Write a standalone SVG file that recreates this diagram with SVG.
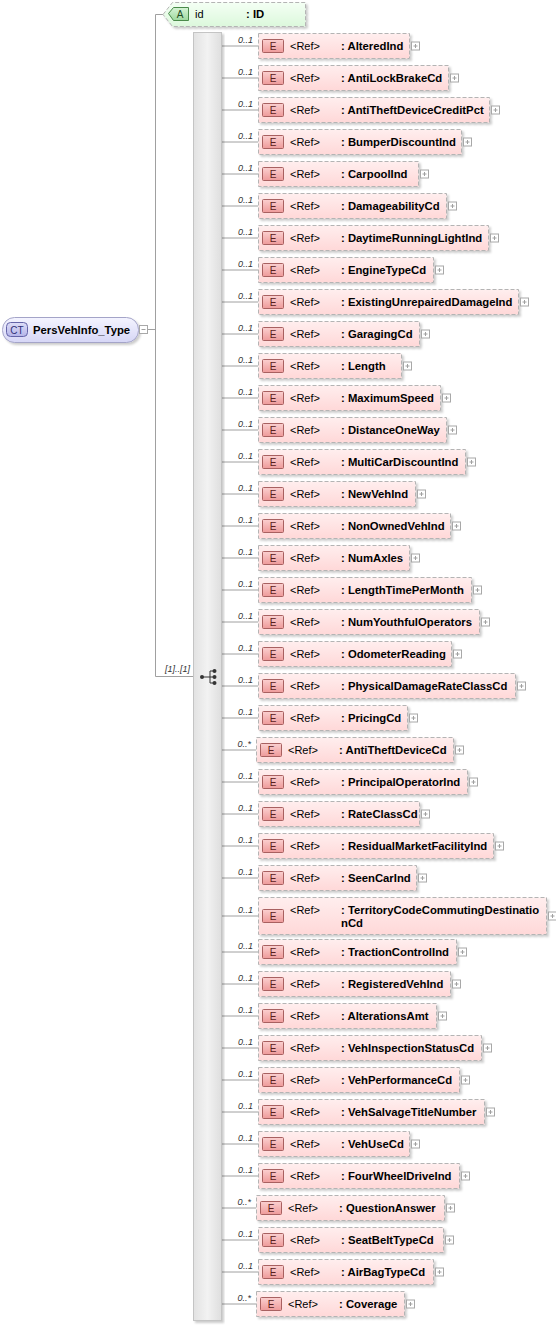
<svg xmlns="http://www.w3.org/2000/svg" xmlns:xlink="http://www.w3.org/1999/xlink" width="556" height="1325" viewBox="0 0 556 1325">
<defs>
<linearGradient id="gE" x1="0" y1="0" x2="0" y2="1"><stop offset="0" stop-color="#ffeeee"/><stop offset="1" stop-color="#ffd8d8"/></linearGradient>
<linearGradient id="gEi" x1="0" y1="0" x2="0" y2="1"><stop offset="0" stop-color="#fbd0d0"/><stop offset="1" stop-color="#ee9a9a"/></linearGradient>
<linearGradient id="gA" x1="0" y1="0" x2="0" y2="1"><stop offset="0" stop-color="#f4fff4"/><stop offset="1" stop-color="#dcf8dc"/></linearGradient>
<linearGradient id="gAi" x1="0" y1="0" x2="0" y2="1"><stop offset="0" stop-color="#d6f4d6"/><stop offset="1" stop-color="#9ed89e"/></linearGradient>
<linearGradient id="gCT" x1="0" y1="0" x2="0" y2="1"><stop offset="0" stop-color="#f4f4ff"/><stop offset="1" stop-color="#d6d6f6"/></linearGradient>
<linearGradient id="gCTi" x1="0" y1="0" x2="0" y2="1"><stop offset="0" stop-color="#dedef8"/><stop offset="1" stop-color="#b4b4e8"/></linearGradient>
<linearGradient id="gBar" x1="0" y1="0" x2="1" y2="0"><stop offset="0" stop-color="#e2e2e2"/><stop offset="0.5" stop-color="#f2f2f2"/><stop offset="1" stop-color="#dedede"/></linearGradient>
<filter id="sh" x="-5%" y="-20%" width="115%" height="160%"><feDropShadow dx="2" dy="2" stdDeviation="1" flood-color="#000" flood-opacity="0.2"/></filter>
<g id="plus"><rect x="0.5" y="0.5" width="8" height="8" fill="#fff" stroke="#a8a8a8"/><path d="M2.5 4.5H6.5M4.5 2.5V6.5" stroke="#a0a0a0" fill="none"/></g>
<g id="eic"><rect x="0.5" y="0.5" width="21" height="13" rx="1" fill="url(#gEi)" stroke="#a86060"/><text x="11" y="11" class="ic" fill="#5a2020">E</text></g>
</defs>
<style>
text{font-family:"Liberation Sans",Arial,sans-serif;}
.box{fill:url(#gE);stroke:#b4b4b4;stroke-dasharray:4 2;}
.ref{font-size:11px;fill:#000;}
.nm{font-size:11.3px;font-weight:bold;fill:#000;}
.ic{font-size:10px;text-anchor:middle;}
.occ{font-size:9px;font-style:italic;fill:#333;text-anchor:end;}
.ln{stroke:#a0a0a0;stroke-width:1;fill:none;}
</style>

<g id="connectors">
<path class="ln" d="M148 329.5H155.5M155.5 14.5V676.5M155.5 14.5H163M155.5 676.5H193"/>
<text class="occ" x="190" y="672">[1]..[1]</text>
<path class="ln" d="M222 46H258M222 78H258M222 110H258M222 142H258M222 174H258M222 206H258M222 238H258M222 270H258M222 302H258M222 334H258M222 366H258M222 398H258M222 430H258M222 462H258M222 494H258M222 526H258M222 558H258M222 590H258M222 622H258M222 654H258M222 686H258M222 718H258M222 750H256M222 782H258M222 814H258M222 846H258M222 878H258M222 916H258M222 952H258M222 984H258M222 1016H258M222 1048H258M222 1080H258M222 1112H258M222 1144H258M222 1176H258M222 1208H256M222 1240H258M222 1272H258M222 1304H256"/>
<g>
<text class="occ" x="253" y="42.5">0..1</text>
<text class="occ" x="253" y="74.5">0..1</text>
<text class="occ" x="253" y="106.5">0..1</text>
<text class="occ" x="253" y="138.5">0..1</text>
<text class="occ" x="253" y="170.5">0..1</text>
<text class="occ" x="253" y="202.5">0..1</text>
<text class="occ" x="253" y="234.5">0..1</text>
<text class="occ" x="253" y="266.5">0..1</text>
<text class="occ" x="253" y="298.5">0..1</text>
<text class="occ" x="253" y="330.5">0..1</text>
<text class="occ" x="253" y="362.5">0..1</text>
<text class="occ" x="253" y="394.5">0..1</text>
<text class="occ" x="253" y="426.5">0..1</text>
<text class="occ" x="253" y="458.5">0..1</text>
<text class="occ" x="253" y="490.5">0..1</text>
<text class="occ" x="253" y="522.5">0..1</text>
<text class="occ" x="253" y="554.5">0..1</text>
<text class="occ" x="253" y="586.5">0..1</text>
<text class="occ" x="253" y="618.5">0..1</text>
<text class="occ" x="253" y="650.5">0..1</text>
<text class="occ" x="253" y="682.5">0..1</text>
<text class="occ" x="253" y="714.5">0..1</text>
<text class="occ" x="251" y="746.5">0..*</text>
<text class="occ" x="253" y="778.5">0..1</text>
<text class="occ" x="253" y="810.5">0..1</text>
<text class="occ" x="253" y="842.5">0..1</text>
<text class="occ" x="253" y="874.5">0..1</text>
<text class="occ" x="253" y="912.5">0..1</text>
<text class="occ" x="253" y="948.5">0..1</text>
<text class="occ" x="253" y="980.5">0..1</text>
<text class="occ" x="253" y="1012.5">0..1</text>
<text class="occ" x="253" y="1044.5">0..1</text>
<text class="occ" x="253" y="1076.5">0..1</text>
<text class="occ" x="253" y="1108.5">0..1</text>
<text class="occ" x="253" y="1140.5">0..1</text>
<text class="occ" x="253" y="1172.5">0..1</text>
<text class="occ" x="251" y="1204.5">0..*</text>
<text class="occ" x="253" y="1236.5">0..1</text>
<text class="occ" x="253" y="1268.5">0..1</text>
<text class="occ" x="251" y="1300.5">0..*</text>
</g>
</g>

<g id="ct">
<rect x="2.5" y="317.5" width="136" height="25" rx="12" fill="url(#gCT)" stroke="#a4a4c8" filter="url(#sh)"/>
<rect x="6.5" y="322.5" width="21" height="14" rx="4" fill="url(#gCTi)" stroke="#6464a8"/>
<text x="17" y="333.5" class="ic" fill="#303078">CT</text>
<text x="33" y="334" class="nm">PersVehInfo_Type</text>
<rect x="139.5" y="325.5" width="8" height="8" fill="#fff" stroke="#a8a8a8"/>
<path d="M141.5 329.5H145.5" stroke="#a0a0a0"/>
</g>

<g id="attr-id">
<polygon points="163,14.5 172.5,2.5 305.5,2.5 305.5,26.5 172.5,26.5" fill="url(#gA)" stroke="#b4b4b4" stroke-dasharray="4 2" filter="url(#sh)"/>
<polygon points="168.5,13.5 173.5,7.5 188.5,7.5 188.5,20.5 173.5,20.5" fill="url(#gAi)" stroke="#4a8a4a"/>
<text x="180" y="18" class="ic" fill="#1e4a1e">A</text>
<text x="195" y="18" class="ref">id</text>
<text x="246" y="18" class="nm">: ID</text>
</g>

<g id="sequence">
<rect x="193.5" y="32.5" width="28" height="1288" fill="url(#gBar)" stroke="#c4c4c4" filter="url(#sh)"/>
<path d="M202 677H210M210 671V683M210 671H214M210 683H214M210 677H214" stroke="#333" fill="none"/>
<circle cx="202" cy="677" r="2" fill="#333"/>
<circle cx="214.5" cy="671" r="2" fill="#333"/>
<circle cx="214.5" cy="677" r="2" fill="#333"/>
<circle cx="214.5" cy="683" r="2" fill="#333"/>
</g>

<g id="e01" transform="translate(0,33)"><rect class="box" x="258.5" y="0.5" width="151" height="25" filter="url(#sh)"/><use href="#eic" x="262" y="6"/><text class="ref" x="290" y="16.5">&lt;Ref&gt;</text><text class="nm" x="341" y="16.5">: AlteredInd</text><use href="#plus" x="411" y="8.5"/></g>
<g id="e02" transform="translate(0,65)"><rect class="box" x="258.5" y="0.5" width="190" height="25" filter="url(#sh)"/><use href="#eic" x="262" y="6"/><text class="ref" x="290" y="16.5">&lt;Ref&gt;</text><text class="nm" x="341" y="16.5">: AntiLockBrakeCd</text><use href="#plus" x="450" y="8.5"/></g>
<g id="e03" transform="translate(0,97)"><rect class="box" x="258.5" y="0.5" width="231" height="25" filter="url(#sh)"/><use href="#eic" x="262" y="6"/><text class="ref" x="290" y="16.5">&lt;Ref&gt;</text><text class="nm" x="341" y="16.5">: AntiTheftDeviceCreditPct</text><use href="#plus" x="491" y="8.5"/></g>
<g id="e04" transform="translate(0,129)"><rect class="box" x="258.5" y="0.5" width="203" height="25" filter="url(#sh)"/><use href="#eic" x="262" y="6"/><text class="ref" x="290" y="16.5">&lt;Ref&gt;</text><text class="nm" x="341" y="16.5">: BumperDiscountInd</text><use href="#plus" x="463" y="8.5"/></g>
<g id="e05" transform="translate(0,161)"><rect class="box" x="258.5" y="0.5" width="160" height="25" filter="url(#sh)"/><use href="#eic" x="262" y="6"/><text class="ref" x="290" y="16.5">&lt;Ref&gt;</text><text class="nm" x="341" y="16.5">: CarpoolInd</text><use href="#plus" x="420" y="8.5"/></g>
<g id="e06" transform="translate(0,193)"><rect class="box" x="258.5" y="0.5" width="188" height="25" filter="url(#sh)"/><use href="#eic" x="262" y="6"/><text class="ref" x="290" y="16.5">&lt;Ref&gt;</text><text class="nm" x="341" y="16.5">: DamageabilityCd</text><use href="#plus" x="448" y="8.5"/></g>
<g id="e07" transform="translate(0,225)"><rect class="box" x="258.5" y="0.5" width="230" height="25" filter="url(#sh)"/><use href="#eic" x="262" y="6"/><text class="ref" x="290" y="16.5">&lt;Ref&gt;</text><text class="nm" x="341" y="16.5">: DaytimeRunningLightInd</text><use href="#plus" x="490" y="8.5"/></g>
<g id="e08" transform="translate(0,257)"><rect class="box" x="258.5" y="0.5" width="175" height="25" filter="url(#sh)"/><use href="#eic" x="262" y="6"/><text class="ref" x="290" y="16.5">&lt;Ref&gt;</text><text class="nm" x="341" y="16.5">: EngineTypeCd</text><use href="#plus" x="435" y="8.5"/></g>
<g id="e09" transform="translate(0,289)"><rect class="box" x="258.5" y="0.5" width="260" height="25" filter="url(#sh)"/><use href="#eic" x="262" y="6"/><text class="ref" x="290" y="16.5">&lt;Ref&gt;</text><text class="nm" x="341" y="16.5">: ExistingUnrepairedDamageInd</text><use href="#plus" x="520" y="8.5"/></g>
<g id="e10" transform="translate(0,321)"><rect class="box" x="258.5" y="0.5" width="161" height="25" filter="url(#sh)"/><use href="#eic" x="262" y="6"/><text class="ref" x="290" y="16.5">&lt;Ref&gt;</text><text class="nm" x="341" y="16.5">: GaragingCd</text><use href="#plus" x="421" y="8.5"/></g>
<g id="e11" transform="translate(0,353)"><rect class="box" x="258.5" y="0.5" width="143" height="25" filter="url(#sh)"/><use href="#eic" x="262" y="6"/><text class="ref" x="290" y="16.5">&lt;Ref&gt;</text><text class="nm" x="341" y="16.5">: Length</text><use href="#plus" x="403" y="8.5"/></g>
<g id="e12" transform="translate(0,385)"><rect class="box" x="258.5" y="0.5" width="182" height="25" filter="url(#sh)"/><use href="#eic" x="262" y="6"/><text class="ref" x="290" y="16.5">&lt;Ref&gt;</text><text class="nm" x="341" y="16.5">: MaximumSpeed</text><use href="#plus" x="442" y="8.5"/></g>
<g id="e13" transform="translate(0,417)"><rect class="box" x="258.5" y="0.5" width="188" height="25" filter="url(#sh)"/><use href="#eic" x="262" y="6"/><text class="ref" x="290" y="16.5">&lt;Ref&gt;</text><text class="nm" x="341" y="16.5">: DistanceOneWay</text><use href="#plus" x="448" y="8.5"/></g>
<g id="e14" transform="translate(0,449)"><rect class="box" x="258.5" y="0.5" width="207" height="25" filter="url(#sh)"/><use href="#eic" x="262" y="6"/><text class="ref" x="290" y="16.5">&lt;Ref&gt;</text><text class="nm" x="341" y="16.5">: MultiCarDiscountInd</text><use href="#plus" x="467" y="8.5"/></g>
<g id="e15" transform="translate(0,481)"><rect class="box" x="258.5" y="0.5" width="157" height="25" filter="url(#sh)"/><use href="#eic" x="262" y="6"/><text class="ref" x="290" y="16.5">&lt;Ref&gt;</text><text class="nm" x="341" y="16.5">: NewVehInd</text><use href="#plus" x="417" y="8.5"/></g>
<g id="e16" transform="translate(0,513)"><rect class="box" x="258.5" y="0.5" width="192" height="25" filter="url(#sh)"/><use href="#eic" x="262" y="6"/><text class="ref" x="290" y="16.5">&lt;Ref&gt;</text><text class="nm" x="341" y="16.5">: NonOwnedVehInd</text><use href="#plus" x="452" y="8.5"/></g>
<g id="e17" transform="translate(0,545)"><rect class="box" x="258.5" y="0.5" width="151" height="25" filter="url(#sh)"/><use href="#eic" x="262" y="6"/><text class="ref" x="290" y="16.5">&lt;Ref&gt;</text><text class="nm" x="341" y="16.5">: NumAxles</text><use href="#plus" x="411" y="8.5"/></g>
<g id="e18" transform="translate(0,577)"><rect class="box" x="258.5" y="0.5" width="213" height="25" filter="url(#sh)"/><use href="#eic" x="262" y="6"/><text class="ref" x="290" y="16.5">&lt;Ref&gt;</text><text class="nm" x="341" y="16.5">: LengthTimePerMonth</text><use href="#plus" x="473" y="8.5"/></g>
<g id="e19" transform="translate(0,609)"><rect class="box" x="258.5" y="0.5" width="221" height="25" filter="url(#sh)"/><use href="#eic" x="262" y="6"/><text class="ref" x="290" y="16.5">&lt;Ref&gt;</text><text class="nm" x="341" y="16.5">: NumYouthfulOperators</text><use href="#plus" x="481" y="8.5"/></g>
<g id="e20" transform="translate(0,641)"><rect class="box" x="258.5" y="0.5" width="193" height="25" filter="url(#sh)"/><use href="#eic" x="262" y="6"/><text class="ref" x="290" y="16.5">&lt;Ref&gt;</text><text class="nm" x="341" y="16.5">: OdometerReading</text><use href="#plus" x="453" y="8.5"/></g>
<g id="e21" transform="translate(0,673)"><rect class="box" x="258.5" y="0.5" width="257" height="25" filter="url(#sh)"/><use href="#eic" x="262" y="6"/><text class="ref" x="290" y="16.5">&lt;Ref&gt;</text><text class="nm" x="341" y="16.5">: PhysicalDamageRateClassCd</text><use href="#plus" x="517" y="8.5"/></g>
<g id="e22" transform="translate(0,705)"><rect class="box" x="258.5" y="0.5" width="149" height="25" filter="url(#sh)"/><use href="#eic" x="262" y="6"/><text class="ref" x="290" y="16.5">&lt;Ref&gt;</text><text class="nm" x="341" y="16.5">: PricingCd</text><use href="#plus" x="409" y="8.5"/></g>
<g id="e23" transform="translate(0,737)"><rect class="box" x="256.5" y="0.5" width="197" height="25" filter="url(#sh)"/><use href="#eic" x="260" y="6"/><text class="ref" x="288" y="16.5">&lt;Ref&gt;</text><text class="nm" x="339" y="16.5">: AntiTheftDeviceCd</text><use href="#plus" x="455" y="8.5"/></g>
<g id="e24" transform="translate(0,769)"><rect class="box" x="258.5" y="0.5" width="209" height="25" filter="url(#sh)"/><use href="#eic" x="262" y="6"/><text class="ref" x="290" y="16.5">&lt;Ref&gt;</text><text class="nm" x="341" y="16.5">: PrincipalOperatorInd</text><use href="#plus" x="469" y="8.5"/></g>
<g id="e25" transform="translate(0,801)"><rect class="box" x="258.5" y="0.5" width="161" height="25" filter="url(#sh)"/><use href="#eic" x="262" y="6"/><text class="ref" x="290" y="16.5">&lt;Ref&gt;</text><text class="nm" x="341" y="16.5">: RateClassCd</text><use href="#plus" x="421" y="8.5"/></g>
<g id="e26" transform="translate(0,833)"><rect class="box" x="258.5" y="0.5" width="235" height="25" filter="url(#sh)"/><use href="#eic" x="262" y="6"/><text class="ref" x="290" y="16.5">&lt;Ref&gt;</text><text class="nm" x="341" y="16.5">: ResidualMarketFacilityInd</text><use href="#plus" x="495" y="8.5"/></g>
<g id="e27" transform="translate(0,865)"><rect class="box" x="258.5" y="0.5" width="158" height="25" filter="url(#sh)"/><use href="#eic" x="262" y="6"/><text class="ref" x="290" y="16.5">&lt;Ref&gt;</text><text class="nm" x="341" y="16.5">: SeenCarInd</text><use href="#plus" x="418" y="8.5"/></g>
<g id="e28" transform="translate(0,897)"><rect class="box" x="258.5" y="0.5" width="288" height="37" filter="url(#sh)"/><use href="#eic" x="262" y="12"/><text class="ref" x="290" y="16.5">&lt;Ref&gt;</text><text class="nm" x="341" y="16.5">: TerritoryCodeCommutingDestinatio</text><text class="nm" x="341" y="29.5">nCd</text><use href="#plus" x="548" y="14.5"/></g>
<g id="e29" transform="translate(0,939)"><rect class="box" x="258.5" y="0.5" width="198" height="25" filter="url(#sh)"/><use href="#eic" x="262" y="6"/><text class="ref" x="290" y="16.5">&lt;Ref&gt;</text><text class="nm" x="341" y="16.5">: TractionControlInd</text><use href="#plus" x="458" y="8.5"/></g>
<g id="e30" transform="translate(0,971)"><rect class="box" x="258.5" y="0.5" width="192" height="25" filter="url(#sh)"/><use href="#eic" x="262" y="6"/><text class="ref" x="290" y="16.5">&lt;Ref&gt;</text><text class="nm" x="341" y="16.5">: RegisteredVehInd</text><use href="#plus" x="452" y="8.5"/></g>
<g id="e31" transform="translate(0,1003)"><rect class="box" x="258.5" y="0.5" width="178" height="25" filter="url(#sh)"/><use href="#eic" x="262" y="6"/><text class="ref" x="290" y="16.5">&lt;Ref&gt;</text><text class="nm" x="341" y="16.5">: AlterationsAmt</text><use href="#plus" x="438" y="8.5"/></g>
<g id="e32" transform="translate(0,1035)"><rect class="box" x="258.5" y="0.5" width="223" height="25" filter="url(#sh)"/><use href="#eic" x="262" y="6"/><text class="ref" x="290" y="16.5">&lt;Ref&gt;</text><text class="nm" x="341" y="16.5">: VehInspectionStatusCd</text><use href="#plus" x="483" y="8.5"/></g>
<g id="e33" transform="translate(0,1067)"><rect class="box" x="258.5" y="0.5" width="201" height="25" filter="url(#sh)"/><use href="#eic" x="262" y="6"/><text class="ref" x="290" y="16.5">&lt;Ref&gt;</text><text class="nm" x="341" y="16.5">: VehPerformanceCd</text><use href="#plus" x="461" y="8.5"/></g>
<g id="e34" transform="translate(0,1099)"><rect class="box" x="258.5" y="0.5" width="226" height="25" filter="url(#sh)"/><use href="#eic" x="262" y="6"/><text class="ref" x="290" y="16.5">&lt;Ref&gt;</text><text class="nm" x="341" y="16.5">: VehSalvageTitleNumber</text><use href="#plus" x="486" y="8.5"/></g>
<g id="e35" transform="translate(0,1131)"><rect class="box" x="258.5" y="0.5" width="151" height="25" filter="url(#sh)"/><use href="#eic" x="262" y="6"/><text class="ref" x="290" y="16.5">&lt;Ref&gt;</text><text class="nm" x="341" y="16.5">: VehUseCd</text><use href="#plus" x="411" y="8.5"/></g>
<g id="e36" transform="translate(0,1163)"><rect class="box" x="258.5" y="0.5" width="201" height="25" filter="url(#sh)"/><use href="#eic" x="262" y="6"/><text class="ref" x="290" y="16.5">&lt;Ref&gt;</text><text class="nm" x="341" y="16.5">: FourWheelDriveInd</text><use href="#plus" x="461" y="8.5"/></g>
<g id="e37" transform="translate(0,1195)"><rect class="box" x="256.5" y="0.5" width="188" height="25" filter="url(#sh)"/><use href="#eic" x="260" y="6"/><text class="ref" x="288" y="16.5">&lt;Ref&gt;</text><text class="nm" x="339" y="16.5">: QuestionAnswer</text><use href="#plus" x="446" y="8.5"/></g>
<g id="e38" transform="translate(0,1227)"><rect class="box" x="258.5" y="0.5" width="185" height="25" filter="url(#sh)"/><use href="#eic" x="262" y="6"/><text class="ref" x="290" y="16.5">&lt;Ref&gt;</text><text class="nm" x="341" y="16.5">: SeatBeltTypeCd</text><use href="#plus" x="445" y="8.5"/></g>
<g id="e39" transform="translate(0,1259)"><rect class="box" x="258.5" y="0.5" width="175" height="25" filter="url(#sh)"/><use href="#eic" x="262" y="6"/><text class="ref" x="290" y="16.5">&lt;Ref&gt;</text><text class="nm" x="341" y="16.5">: AirBagTypeCd</text><use href="#plus" x="435" y="8.5"/></g>
<g id="e40" transform="translate(0,1291)"><rect class="box" x="256.5" y="0.5" width="148" height="25" filter="url(#sh)"/><use href="#eic" x="260" y="6"/><text class="ref" x="288" y="16.5">&lt;Ref&gt;</text><text class="nm" x="339" y="16.5">: Coverage</text><use href="#plus" x="406" y="8.5"/></g>
</svg>
